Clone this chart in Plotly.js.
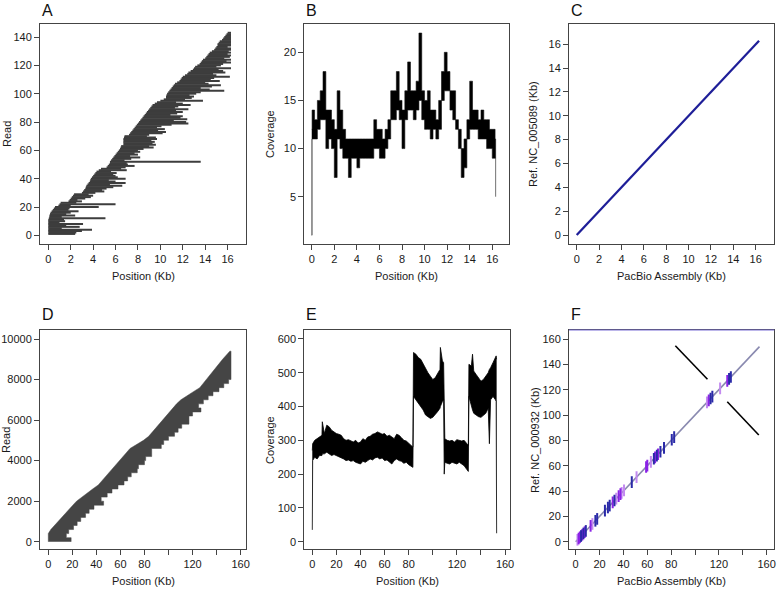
<!DOCTYPE html>
<html>
<head>
<meta charset="utf-8">
<script src="https://cdn.plot.ly/plotly-3.0.1.min.js"></script>
<style>html,body{margin:0;padding:0;background:#fff}#chart{width:778px;height:591px}</style>
</head>
<body>
<div id="chart"></div>
<script>
// ---------- Panel A : read layout, NC_005089 (reads 1..143, Kb) ----------
const readStartA = [0,0,0,0,0,0,0,0,0,0, 0,0.05,0.1,0.1,0.15,0.2,0.3,0.4,0.5,0.6,
  0.9,1.0,1.1,1.8,1.9,2.0,2.1,2.2,2.3,3.0, 3.1,3.2,3.3,3.35,3.4,3.5,3.6,3.7,3.75,3.8,
  3.9,4.0,4.1,4.2,4.3,4.5,4.7,5.2,5.3,5.4, 5.5,5.5,5.6,5.7,5.8,5.9,6.0,6.1,6.2,6.3,
  6.4,6.45,6.5,6.7,6.7,6.7,6.7,6.7,6.75,6.8, 7.2,7.3,7.4,7.5,7.6,7.7,7.8,7.9,8.0,8.1,
  8.2,8.3,8.4,8.5,8.6,8.7,8.8,8.9,9.0,9.1, 9.2,9.3,9.5,9.7,10.0,10.3,10.5,10.5,10.55,10.6,
  10.7,10.8,10.9,11.0,11.1,11.2,11.3,11.5,11.7,11.8, 11.9,12.0,12.2,12.4,12.5,12.7,12.9,13.0,13.1,13.3,
  13.5,13.6,13.7,13.8,14.0,14.1,14.2,14.3,14.4,14.6, 14.8,14.9,15.0,15.1,15.1,15.2,15.3,15.5,15.6,15.7,
  15.8,15.9,16.0];
const readEndA = [2.4,2.5,3.0,3.9,1.2,2.8,1.6,3.1,1.0,1.5, 1.4,5.1,1.2,2.4,1.6,2.0,2.7,1.8,1.9,4.5,
  2.0,6.0,2.5,3.0,2.6,3.3,3.8,4.0,3.6,4.2, 5.0,4.8,5.2,5.8,6.6,5.5,6.9,6.0,5.4,6.9,
  6.2,6.0,5.8,6.1,5.6,7.0,6.5,6.9,7.7,7.1, 7.0,13.6,6.8,7.4,8.2,7.3,8.0,7.7,8.2,8.0,
  8.5,9.4,9.0,9.6,9.3,9.5,9.2,9.7,9.6,8.8, 9.0,10.2,10.5,9.8,10.4,9.7,10.1,11.0,12.5,12.3,
  11.2,12.4,11.8,12.0,10.9,11.5,12.0,11.4,12.5,11.3, 11.6,12.7,12.0,11.4,13.8,12.2,12.8,13.0,12.6,13.2,
  13.6,15.7,14.4,13.6,14.6,15.4,14.3,14.0,15.3,14.5, 14.8,16.2,15.0,14.7,15.8,15.6,15.2,16.3,15.0,15.4,
  15.6,16.3,15.9,16.3,15.7,16.2,16.3,16.0,16.3,16.1, 16.3,16.3,16.0,16.3,16.3,16.3,16.3,16.3,16.3,16.3,
  16.3,16.3,16.3];

// ---------- Panel B : coverage, NC_005089 ----------
const posB = [0,0.03,0.25,0.5,0.75,1.0,1.25,1.5,1.75,2.0,2.25,2.5,2.75,3.0,3.25,3.5,3.75,4.0,4.25,4.5,4.75,
  5.0,5.25,5.5,5.75,6.0,6.25,6.5,6.75,7.0,7.25,7.5,7.75,8.0,8.25,8.5,8.75,9.0,9.25,9.5,9.75,
  10.0,10.25,10.5,10.75,11.0,11.25,11.5,11.75,12.0,12.25,12.5,12.75,13.0,13.25,13.5,13.75,
  14.0,14.25,14.5,14.75,15.0,15.25,15.5,15.75,16.0,16.25,16.3];
const covLowB = [1,11,11,12,13,13,10,11,10,7,11,10,9,9,7,9,9,8,9,9,9,
  9,9,10,10,9,9,10,11,13,13,14,13,10,13,14,14,13,14,15,13,
  12,12,11,12,11,12,15,16,16,14,13,12,10,7,8,11,
  12,12,12,11,11,11,10,10,9,9,5];
const covHighB = [12,14,13,15,16,18,14,14,13,12,16,14,12,11,11,11,11,11,11,11,11,
  11,11,13,12,12,11,12,13,16,16,18,15,14,16,19,16,16,17,22,16,
  15,16,14,14,13,15,18,20,18,16,16,13,12,10,11,13,
  17,14,14,13,14,13,13,12,12,11,9];

// ---------- Panel C : dot plot vs NC_005089 ----------
const asmC = [0, 16.3];
const refC = [0, 16.3];

// ---------- Panel D : read layout, NC_000932 (groups of 200 reads, Kb) ----------
const readGroupD = [0,200,400,600,800,1000,1200,1400,1600,1800,2000,2200,2400,2600,2800,3000,3200,3400,3600,3800,
  4000,4200,4400,4600,4800,5000,5200,5400,5600,5800,6000,6200,6400,6600,6800,7000,7200,7400,7600,7800,
  8000,8200,8400,8600,8800,9000,9200];
const groupStartD = [0,0,0,2.1,5.2,8.2,11.2,14.3,17.4,20.4,23.5,27.4,32.1,36.9,41.6,44.5,47.5,50.4,53.3,56.3,
  59.2,62.1,65.1,68,73.6,79.2,83.5,86.4,89.3,92.2,95.1,98,100.9,103.8,106.7,110.3,115.5,120.7,126,128.7,
  131.4,134.2,136.9,139.6,142.3,145,147.8];
const groupEndD = [19,15,17,21,24,27,31,34,38,46,44,49,53,58,63,66,69,74,75,80,
  81,86,86,94,96,100,105,108,111,117,117,120,127,125,129,133,137,142,146,150,
  152,152,152,152,152,152,152];
const lastReadD = 9400;
const lastStartD = 151;

// ---------- Panel E : coverage, NC_000932 ----------
const posE = [0,0.3,2,4,6,8,8.3,10,12,14,16,18,20,22,24,26,28,30,32,34,36,38,40,42,44,46,48,50,52,54,56,58,60,
  62,64,66,68,70,72,74,76,78,80,82,83.5,84,86,88,90,92,94,96,98,100,102,104,106,106.3,108,109,
  109.5,110,112,114,116,118,120,122,124,126,128,129.5,130,132,133,134,136,138,140,142,144,146,147,148,
  150,152,152.6,153];
const covHighE = [270,290,300,305,310,315,355,320,345,340,330,325,320,318,315,305,300,302,298,295,300,292,295,
  305,300,310,312,318,320,325,322,318,320,312,315,310,305,318,315,308,300,298,290,285,280,560,555,545,540,
  525,510,500,490,480,485,500,510,575,535,530,310,305,300,298,300,295,302,300,298,300,292,285,525,520,555,
  505,495,485,475,480,490,500,510,515,530,545,550,540];
const covLowE = [35,240,250,245,255,255,260,260,265,260,255,258,255,250,248,245,240,242,238,240,235,232,230,
  238,235,240,245,242,248,250,245,248,240,242,235,230,240,245,240,238,232,235,228,222,220,430,420,410,400,
  390,375,370,365,368,375,385,395,400,415,420,200,235,232,230,235,232,230,235,230,225,215,208,430,400,390,
  380,375,370,368,375,380,395,290,420,430,420,415,25];

// ---------- Panel F : dot plot vs NC_000932 ----------
const asmF = [0, 154];
const refF = [0, 154];
const invAsm1 = [83.5, 110.4], invRef1 = [154.7, 128.2];
const invAsm2 = [127, 153.4], invRef2 = [110.5, 84.2];
const repeatPos = [1.5,2.5,3.5,4.5,5.5,6.5,7.5,8.5,12.5,14,16.5,18,24.5,27,28.5,31,32.5,34,36,37.5,38.5,40.5,
  47,51,59,60,63,65.5,66.5,68,69,71,74,80.5,82.5,110,111.5,113,114.5,121,127,128.5,130];
const repeatKind = ['l','p','p','b','p','b','p','b','p','l','b','b','b','b','b','p','b','l','p','p','l','l',
  'b','l','p','p','l','b','p','b','p','b','b','b','b','l','p','b','b','l','p','b','b'];

// ---------- build ----------
const FONT = 'Liberation Sans, Arial, sans-serif';
const traces = [];

// A: each read as a horizontal segment
{
  const xs = [], ys = [];
  readStartA.forEach((s, i) => { xs.push(s, readEndA[i], null); ys.push(i + 1, i + 1, null); });
  traces.push({type:'scatter', mode:'lines', xaxis:'x', yaxis:'y', x: xs, y: ys,
    line:{color:'#3d3d3d', width:2}, connectgaps:false});
}

traces.push({type:'scatter', mode:'lines', xaxis:'x2', yaxis:'y2', x: posB, y: covLowB,
  line:{color:'#111', width:0.6, shape:'hv'}});
traces.push({type:'scatter', mode:'lines', xaxis:'x2', yaxis:'y2', x: posB, y: covHighB,
  line:{color:'#111', width:0.6, shape:'hv'}, fill:'tonexty', fillcolor:'#000'});

traces.push({type:'scatter', mode:'lines', xaxis:'x3', yaxis:'y3', x: asmC, y: refC,
  line:{color:'#1e1e98', width:2.2}});

// D: union of read groups: stepped right edge (read ends), straight-joined left edge (sorted starts)
{
  const xs = [], ys = [];
  const n = readGroupD.length;
  for (let i = 0; i < n; i++) {
    const top = i < n - 1 ? readGroupD[i + 1] : lastReadD;
    xs.push(groupEndD[i], groupEndD[i]); ys.push(readGroupD[i], top);
  }
  xs.push(lastStartD); ys.push(lastReadD);
  for (let i = n - 1; i >= 0; i--) { xs.push(groupStartD[i]); ys.push(readGroupD[i]); }
  traces.push({type:'scatter', mode:'lines', xaxis:'x4', yaxis:'y4', x: xs, y: ys,
    fill:'toself', fillcolor:'#454545', line:{color:'#454545', width:0.5}});
}

traces.push({type:'scatter', mode:'lines', xaxis:'x5', yaxis:'y5', x: posE, y: covLowE,
  line:{color:'#000', width:0.8}});
traces.push({type:'scatter', mode:'lines', xaxis:'x5', yaxis:'y5', x: posE, y: covHighE,
  line:{color:'#000', width:0.8}, fill:'tonexty', fillcolor:'#000'});

traces.push({type:'scatter', mode:'lines', xaxis:'x6', yaxis:'y6', x: asmF, y: refF,
  line:{color:'#8a8ab0', width:1.6}});
traces.push({type:'scatter', mode:'lines', xaxis:'x6', yaxis:'y6', x: invAsm1, y: invRef1,
  line:{color:'#000', width:1.6}});
traces.push({type:'scatter', mode:'lines', xaxis:'x6', yaxis:'y6', x: invAsm2, y: invRef2,
  line:{color:'#000', width:1.6}});
const kindColor = {b:'#2a2aa8', p:'#8a22e6', l:'#c38af0'};
['l','p','b'].forEach(k => {
  const xs = [], ys = [];
  repeatPos.forEach((p, i) => {
    if (repeatKind[i] !== k) return;
    xs.push(p, p, null); ys.push(p - 4.6, p + 4.6, null);
  });
  traces.push({type:'scatter', mode:'lines', xaxis:'x6', yaxis:'y6', x: xs, y: ys,
    line:{color: kindColor[k], width:2}, connectgaps:false});
});

const W = 778, H = 591;
const dx = (a, b) => [a / W, b / W];
const dy = (top, bot) => [1 - bot / H, 1 - top / H];

function ax(domain, range, extra) {
  return Object.assign({domain, range, showgrid:false, zeroline:false, showline:true, mirror:true,
    linecolor:'#444', linewidth:1, ticks:'outside', ticklen:5, tickwidth:1, tickcolor:'#444',
    tickfont:{family:FONT, size:11, color:'#1a1a1a'}, fixedrange:true}, extra);
}
const kbTicks = {tickmode:'array', tickvals:[0,2,4,6,8,10,12,14,16]};
const bigTicks = {tickmode:'array', tickvals:[0,20,40,60,80,100,120,140,160],
  ticktext:['0','20','40','60','80','','120','','160']};

const layout = {
  width: W, height: H, margin:{l:0, r:0, t:0, b:0}, showlegend:false,
  paper_bgcolor:'#fff', plot_bgcolor:'#fff',
  xaxis:  ax(dx(40, 246), [-0.74, 17.64], Object.assign({anchor:'y'}, kbTicks)),
  yaxis:  ax(dy(24, 244), [-6.1, 149.2], {anchor:'x', tickmode:'array', tickvals:[0,20,40,60,80,100,120,140]}),
  xaxis2: ax(dx(304.3, 509.3), [-0.66, 17.51], Object.assign({anchor:'y2'}, kbTicks)),
  yaxis2: ax(dy(24, 244), [0.09, 22.94], {anchor:'x2', tickmode:'array', tickvals:[5,10,15,20]}),
  xaxis3: ax(dx(569, 774.3), [-0.69, 17.66], Object.assign({anchor:'y3'}, kbTicks)),
  yaxis3: ax(dy(24, 244), [-0.755, 17.70], Object.assign({anchor:'x3'}, kbTicks)),
  xaxis4: ax(dx(40, 245.7), [-6.9, 164.2], Object.assign({anchor:'y4'}, bigTicks)),
  yaxis4: ax(dy(330, 549), [-360, 10444], {anchor:'x4', tickmode:'array',
    tickvals:[0,2000,4000,6000,8000,10000], ticktext:['0','2000','4000','6000','8000','10000']}),
  xaxis5: ax(dx(304.3, 510), [-6.64, 164.1], Object.assign({anchor:'y5'}, bigTicks)),
  yaxis5: ax(dy(330, 549), [-21.6, 626.6], {anchor:'x5', tickmode:'array', tickvals:[0,100,200,300,400,500,600]}),
  xaxis6: ax(dx(569, 774.3), [-5.6, 166.4], Object.assign({anchor:'y6'}, bigTicks)),
  yaxis6: ax(dy(330, 549), [-5.76, 167.1], {anchor:'x6', tickmode:'array', tickvals:[0,20,40,60,80,100,120,140,160]}),
  shapes: [{type:'line', xref:'paper', yref:'paper', x0: 569 / W, x1: 774.3 / W, y0: 1 - 330 / H, y1: 1 - 330 / H,
    line:{color:'#7a6fd6', width:1.2}}],
  annotations: []
};

function note(text, px, py, opts) {
  layout.annotations.push(Object.assign({text, x: px / W, y: 1 - py / H, xref:'paper', yref:'paper',
    showarrow:false, xanchor:'center', yanchor:'middle',
    font:{family:FONT, size:11, color:'#1a1a1a'}}, opts || {}));
}
// panel letters
[['A',40,10],['B',304,10],['C',569,10],['D',40,314],['E',304,314],['F',569,314]].forEach(([t,x,y]) =>
  note(t, x, y, {xanchor:'left', font:{family:FONT, size:16, color:'#111'}}));
// x titles
note('Position (Kb)', 143, 276); note('Position (Kb)', 406, 276); note('PacBio Assembly (Kb)', 671, 276);
note('Position (Kb)', 143, 581); note('Position (Kb)', 407, 581); note('PacBio Assembly (Kb)', 671, 581);
// y titles
note('Read', 7, 134, {textangle:-90}); note('Coverage', 270, 134, {textangle:-90});
note('Ref. NC_005089 (Kb)', 533, 134, {textangle:-90});
note('Read', 6, 440, {textangle:-90}); note('Coverage', 270, 440, {textangle:-90});
note('Ref. NC_000932 (Kb)', 535, 440, {textangle:-90});

Plotly.newPlot('chart', traces, layout, {staticPlot:true, displayModeBar:false});
</script>
</body>
</html>
